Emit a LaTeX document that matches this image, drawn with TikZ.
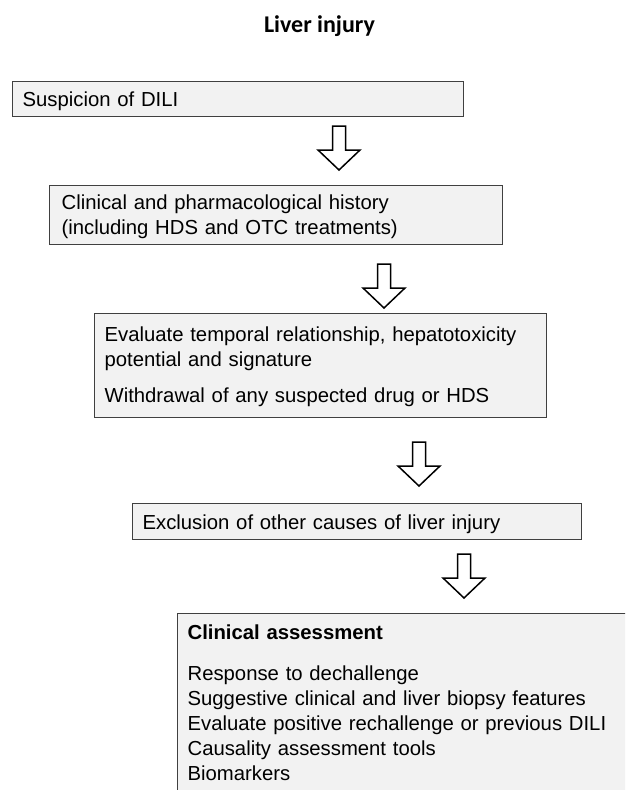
\documentclass[tikz,border=0pt]{standalone}
\usepackage{fontspec}
\setmainfont{Liberation Sans}
\newfontfamily\calibri{Carlito}
\usetikzlibrary{positioning,calc}
\newcommand{\boxfont}{\fontsize{20.3}{25}\selectfont\spaceskip=7.4pt plus 2pt minus 1pt\relax}

\begin{document}
\begin{tikzpicture}[
x=1pt,y=-1pt,
box/.style={draw=black!75,line width=1.2pt,fill=black!5,anchor=north west,inner xsep=10pt,inner ysep=0pt,
  align=left,text height=15pt,font={\boxfont}},
ttl/.style={font={\calibri\bfseries\fontsize{24}{28}\selectfont}},
arr/.style={draw=black,line width=1.5pt,fill=white,line join=miter},
down/.pic={\draw[arr] (-6.5,0) -- (-6.5,24) -- (-21,24) -- (0,44) -- (21,24) -- (6.5,24) -- (6.5,0) -- cycle;}
]
\useasboundingbox (0,0) rectangle (625,790);
\node[ttl,anchor=base] (title) at (319.5,32) {Liver injury};
\node[box,minimum width=451pt,minimum height=35pt,text width=431pt,text depth=0pt] (susp) at (12,81) {Suspicion of DILI};
\pic (a1) at (339,126) {down};
\node[box,inner xsep=12pt,minimum width=453pt,minimum height=59pt,text width=429pt,text depth=26pt] (hist) at (49,185)
  {Clinical and pharmacological history\\(including HDS and OTC treatments)};
\pic (a2) at (384,264) {down};
\node[box,minimum width=452pt,minimum height=104pt,text width=432pt,text depth=63pt] (eval) at (94,313)
  {Evaluate temporal relationship, hepatotoxicity\\potential and signature\\[11pt]Withdrawal of any suspected drug or HDS};
\pic (a3) at (419,442) {down};
\node[box,minimum width=449pt,minimum height=36pt,text width=429pt,text depth=0pt] (excl) at (132,503)
  {Exclusion of other causes of liver injury};
\pic (a4) at (464,554) {down};
\begin{scope}
\clip (0,0) rectangle (625,790);
\node[box,minimum width=470pt,minimum height=190pt,text width=450pt,text depth=153pt] (clin) at (177,613)
  {\textbf{Clinical assessment}\\[16pt]Response to dechallenge\\Suggestive clinical and liver biopsy features\\
   Evaluate positive rechallenge or previous DILI\\Causality assessment tools\\Biomarkers};
\end{scope}
\end{tikzpicture}
\end{document}
